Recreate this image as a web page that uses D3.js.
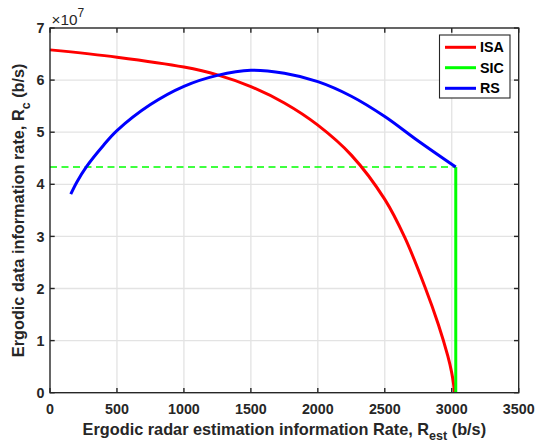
<!DOCTYPE html>
<html>
<head>
<meta charset="utf-8">
<script src="https://cdn.jsdelivr.net/npm/d3@7"></script>
<style>
  body { margin: 0; background: #fff; }
  text { font-family: "Liberation Sans", Arial, sans-serif; }
</style>
</head>
<body>
<script>
var width = 535;
var height = 443;
var margin = { top: 28, right: 16, bottom: 50, left: 50 };

// valori (x in b/s, y in b/s)
var isaX = [0, 500, 1000, 1250, 1500, 1750, 2000, 2250, 2500, 2650, 2800, 2900, 2970, 3000, 3015, 3020];
var isaY = [6.58e7, 6.44e7, 6.25e7, 6.10e7, 5.875e7, 5.56e7, 5.135e7, 4.56e7, 3.71e7, 2.975e7, 2.03e7, 1.31e7, 0.71e7, 0.38e7, 0.14e7, 0];

var rsX = [155, 200, 270, 400, 500, 750, 1000, 1250, 1500, 1750, 2000, 2250, 2500, 2750, 3030];
var rsY = [3.81e7, 4.04e7, 4.33e7, 4.75e7, 5.03e7, 5.53e7, 5.88e7, 6.09e7, 6.19e7, 6.13e7, 5.97e7, 5.69e7, 5.30e7, 4.83e7, 4.33e7];

var sicX = [0, 3030, 3030];
var sicY = [4.33e7, 4.33e7, 0];

var xTicks = [0, 500, 1000, 1500, 2000, 2500, 3000, 3500];
var yTicks = [0, 1e7, 2e7, 3e7, 4e7, 5e7, 6e7, 7e7];

var seriesNames = ['ISA', 'SIC', 'RS'];
var seriesColors = ['#ff0000', '#00ff00', '#0000ff'];

var xScale = d3.scaleLinear().domain([0, 3500]).range([margin.left, width - margin.right - 0.3]);
var yScale = d3.scaleLinear().domain([0, 7e7]).range([392.7, margin.top]);

var svg = d3.select('body').append('svg')
  .attr('width', width)
  .attr('height', height);

var axisColor = '#262626';
var tickLen = 4.7;

// griglia
svg.append('g').selectAll('line.gx')
  .data(xTicks.slice(1, -1))
  .enter().append('line')
  .attr('x1', function (d) { return xScale(d) }).attr('x2', function (d) { return xScale(d) })
  .attr('y1', yScale(0)).attr('y2', yScale(7e7))
  .style('stroke', '#e3e3e3').style('stroke-width', 1.3);

svg.append('g').selectAll('line.gy')
  .data(yTicks.slice(1, -1))
  .enter().append('line')
  .attr('y1', function (d) { return yScale(d) }).attr('y2', function (d) { return yScale(d) })
  .attr('x1', xScale(0)).attr('x2', xScale(3500))
  .style('stroke', '#e3e3e3').style('stroke-width', 1.3);

// curve
var line = d3.line()
  .x(function (d) { return xScale(d[0]) })
  .y(function (d) { return yScale(d[1]) });

var smooth = d3.line()
  .x(function (d) { return xScale(d[0]) })
  .y(function (d) { return yScale(d[1]) })
  .curve(d3.curveCatmullRom.alpha(0.5));

// SIC: tratto orizzontale tratteggiato e verticale pieno
svg.append('path')
  .attr('d', line([[sicX[0], sicY[0]], [sicX[1], sicY[1]]]))
  .style('fill', 'none').style('stroke', seriesColors[1])
  .style('stroke-width', 1.5).style('stroke-dasharray', '7,4.5');

svg.append('path')
  .attr('d', smooth(d3.zip(isaX, isaY)))
  .style('fill', 'none').style('stroke', seriesColors[0]).style('stroke-width', 3);

svg.append('path')
  .attr('d', line([[sicX[1], sicY[1]], [sicX[2], sicY[2]]]))
  .style('fill', 'none').style('stroke', seriesColors[1]).style('stroke-width', 3);

svg.append('path')
  .attr('d', smooth(d3.zip(rsX, rsY)))
  .style('fill', 'none').style('stroke', seriesColors[2]).style('stroke-width', 3);

// box e tacche (interne, su tutti e quattro i lati)
var axes = svg.append('g');
axes.append('rect')
  .attr('x', xScale(0)).attr('y', yScale(7e7))
  .attr('width', xScale(3500) - xScale(0)).attr('height', yScale(0) - yScale(7e7))
  .style('fill', 'none').style('stroke', axisColor).style('stroke-width', 1.4);

xTicks.forEach(function (t) {
  axes.append('line').attr('x1', xScale(t)).attr('x2', xScale(t))
    .attr('y1', yScale(0)).attr('y2', yScale(0) - tickLen)
    .style('stroke', axisColor).style('stroke-width', 1.4);
  axes.append('line').attr('x1', xScale(t)).attr('x2', xScale(t))
    .attr('y1', yScale(7e7)).attr('y2', yScale(7e7) + tickLen)
    .style('stroke', axisColor).style('stroke-width', 1.4);
});
yTicks.forEach(function (t) {
  axes.append('line').attr('x1', xScale(0)).attr('x2', xScale(0) + tickLen)
    .attr('y1', yScale(t)).attr('y2', yScale(t))
    .style('stroke', axisColor).style('stroke-width', 1.4);
  axes.append('line').attr('x1', xScale(3500)).attr('x2', xScale(3500) - tickLen)
    .attr('y1', yScale(t)).attr('y2', yScale(t))
    .style('stroke', axisColor).style('stroke-width', 1.4);
});

// etichette delle tacche
axes.selectAll('text.xt')
  .data(xTicks).enter().append('text')
  .attr('x', function (d) { return xScale(d) })
  .attr('y', 413.5)
  .attr('text-anchor', 'middle')
  .style('font-size', '14.3px').style('font-weight', 'bold').style('fill', axisColor)
  .text(function (d) { return d });

axes.selectAll('text.yt')
  .data(yTicks).enter().append('text')
  .attr('x', 44.5)
  .attr('y', function (d) { return yScale(d) + 5.1 })
  .attr('text-anchor', 'end')
  .style('font-size', '14.3px').style('font-weight', 'bold').style('fill', axisColor)
  .text(function (d) { return d / 1e7 });

// moltiplicatore x10^7
var mult = axes.append('text')
  .attr('x', 51.5).attr('y', 24.5)
  .style('font-size', '15.3px').style('fill', axisColor);
mult.append('tspan').text('\u00d710');
mult.append('tspan').attr('dy', -7.5).style('font-size', '12px').text('7');

// titoli degli assi
var xLabel = svg.append('text')
  .attr('x', (xScale(0) + xScale(3500)) / 2).attr('y', 434.5)
  .attr('text-anchor', 'middle')
  .style('font-size', '16.3px').style('font-weight', 'bold').style('fill', axisColor);
xLabel.append('tspan').text('Ergodic radar estimation information Rate, R');
xLabel.append('tspan').attr('dy', 5.5).style('font-size', '12.5px').text('est');
xLabel.append('tspan').attr('dy', -5.5).text(' (b/s)');

var yLabel = svg.append('text')
  .attr('transform', 'translate(24,' + (yScale(0) + yScale(7e7)) / 2 + ') rotate(-90)')
  .attr('text-anchor', 'middle')
  .style('font-size', '16.3px').style('font-weight', 'bold').style('fill', axisColor);
yLabel.append('tspan').text('Ergodic data information rate, R');
yLabel.append('tspan').attr('dy', 5.5).style('font-size', '12.5px').text('c');
yLabel.append('tspan').attr('dy', -5.5).text(' (b/s)');

// legenda
var legend = svg.append('g');
legend.append('rect')
  .attr('x', 439.5).attr('y', 35)
  .attr('width', 70.5).attr('height', 63)
  .style('fill', '#fff').style('stroke', axisColor).style('stroke-width', 1.1);

var rowY = [47.3, 67.7, 88.3];
seriesNames.forEach(function (name, i) {
  legend.append('line')
    .attr('x1', 445).attr('x2', 476)
    .attr('y1', rowY[i]).attr('y2', rowY[i])
    .style('stroke', seriesColors[i]).style('stroke-width', 3);
  legend.append('text')
    .attr('x', 480).attr('y', rowY[i] + 5.1)
    .style('font-size', '14.3px').style('font-weight', 'bold').style('fill', '#000')
    .text(name);
});
</script>
</body>
</html>
